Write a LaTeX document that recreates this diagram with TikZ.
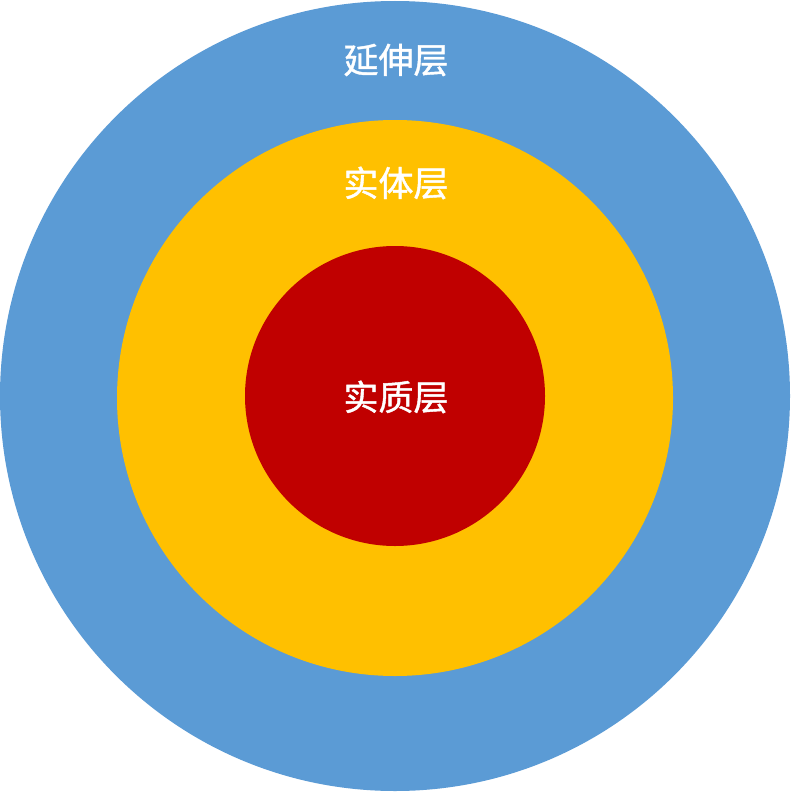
\documentclass[tikz,border=0pt]{standalone}
\usepackage{fontspec}
\newfontfamily\cjk[FakeBold=1.2]{Noto Sans CJK SC}
\definecolor{outerblue}{HTML}{5B9BD5}
\definecolor{midyellow}{HTML}{FFC000}
\definecolor{innerred}{HTML}{C00000}
\tikzset{
  lbl/.style={text=white, font=\cjk\fontsize{35}{40}\selectfont, inner sep=0pt}
}
\begin{document}
\begin{tikzpicture}[x=1pt,y=-1pt]
\useasboundingbox (0,0) rectangle (791,792);
\fill[white] (0,0) rectangle (791,792);
\fill[outerblue] (395,396) circle[radius=395];
\fill[midyellow] (395,398) circle[radius=278];
\fill[innerred] (395,396) circle[radius=150];
\node[lbl] (ext) at (396,60) {延伸层};
\node[lbl] (ent) at (396,183) {实体层};
\node[lbl] (ess) at (396,397) {实质层};
\end{tikzpicture}
\end{document}
